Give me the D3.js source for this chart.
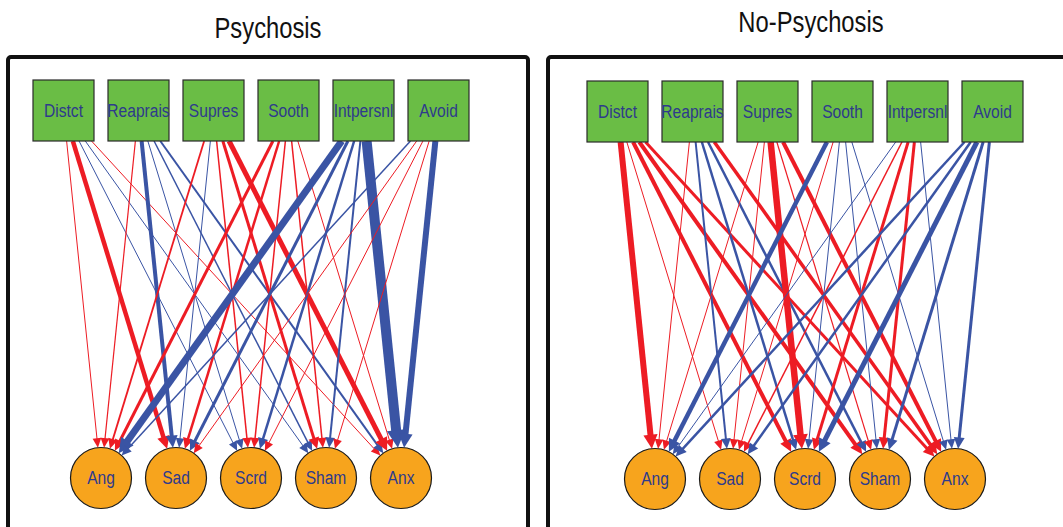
<!DOCTYPE html>
<html>
<head>
<meta charset="utf-8">
<script src="https://cdn.jsdelivr.net/npm/d3@7"></script>
<style>
  body { margin: 0; background: #fff; }
  svg { display: block; }
  text { font-family: "Liberation Sans", Arial, "DejaVu Sans", sans-serif; }
</style>
</head>
<body>
<svg id="chart" width="1063" height="527"></svg>
<script>
const strategies = ['Distct', 'Reaprais', 'Supres', 'Sooth', 'Intpersnl', 'Avoid'];
const emotions = ['Ang', 'Sad', 'Scrd', 'Sham', 'Anx'];

// edge weights, rows = strategies, columns = emotions
// positive = red, negative = blue, size = line width
const psychosis = [
    [ 1.0,  4.5, -1.0, -1.0,  1.0],
    [ 1.2, -4.0, -1.0, -1.5, -2.0],
    [ 1.8, -1.0,  1.5,  3.0,  5.0],
    [ 3.0,  2.5,  1.5,  1.5,  1.0],
    [-7.0, -3.0, -2.5, -2.0, -10.0],
    [-1.5,  1.0,  1.0,  1.0, -6.0]
];
const noPsychosis = [
    [ 6.0,  1.0,  4.0,  4.0,  3.0],
    [ 1.0, -2.0, -2.5, -2.5,  3.5],
    [ 1.0,  1.0,  6.5,  1.2,  4.0],
    [-4.5,  1.0, -1.0, -1.0, -1.0],
    [-1.0,  1.5,  3.0,  3.0, -1.0],
    [-2.5, -2.5, -5.0, -3.0, -3.0]
];
const panelTitles = ['Psychosis', 'No-Psychosis'];

const svg = d3.select('#chart');
const red = '#ed1c24', blue = '#3a54a4';
const labelColor = '#2e3a8c';
const narrow = 'scale(0.82,1)'; // condensed look

function drawPanel(g, weights) {
    const sx = d3.scalePoint().domain(strategies).range([63.5, 438.5]);
    const tx = d3.scalePoint().domain(emotions).range([101, 401]);
    const widthScale = d3.scaleLinear().domain([0, 10]).range([0, 10]);
    const boxY = 110.5, boxHalf = 30.5, circY = 478, r = 30.5;

    const edges = [];
    strategies.forEach((s, i) => emotions.forEach((e, j) => edges.push({ s, e, v: weights[i][j] })));

    edges.forEach(d => {
        const x0 = sx(d.s), y0 = boxY, x1 = tx(d.e), y1 = circY;
        const dx = x1 - x0, dy = y1 - y0, len = Math.hypot(dx, dy);
        const ux = dx / len, uy = dy / len;
        const w = widthScale(Math.abs(d.v));
        const hl = 8.5 + w * 0.9, hw = 3.8 + w * 0.55;
        const tip = [x1 - ux * r, y1 - uy * r];
        const base = [tip[0] - ux * hl, tip[1] - uy * hl];
        d.start = [x0 + dx * boxHalf / dy, y0 + boxHalf];
        d.end = [base[0] + ux, base[1] + uy];
        d.head = [tip, [base[0] - uy * hw, base[1] + ux * hw], [base[0] + uy * hw, base[1] - ux * hw]];
        d.width = w;
        d.color = d.v > 0 ? red : blue;
    });

    g.selectAll('line.edge')
        .data(edges)
        .join('line')
        .attr('class', 'edge')
        .attr('x1', d => d.start[0]).attr('y1', d => d.start[1])
        .attr('x2', d => d.end[0]).attr('y2', d => d.end[1])
        .style('stroke', d => d.color)
        .style('stroke-width', d => d.width);

    g.selectAll('path.head')
        .data(edges)
        .join('path')
        .attr('class', 'head')
        .attr('d', d => 'M' + d.head.join('L') + 'Z')
        .style('fill', d => d.color);

    // strategy boxes
    const boxes = g.selectAll('g.box')
        .data(strategies)
        .join('g')
        .attr('class', 'box')
        .attr('transform', d => `translate(${sx(d)},${boxY})`);
    boxes.append('rect')
        .attr('x', -boxHalf).attr('y', -boxHalf)
        .attr('width', boxHalf * 2).attr('height', boxHalf * 2)
        .style('fill', '#6abd45')
        .style('stroke', '#2a2a2a')
        .style('stroke-width', 1.2);
    boxes.append('text')
        .attr('transform', narrow)
        .attr('text-anchor', 'middle')
        .attr('dy', '0.33em')
        .style('font-size', '19px')
        .style('fill', labelColor)
        .text(d => d);

    // emotion circles
    const nodes = g.selectAll('g.emo')
        .data(emotions)
        .join('g')
        .attr('class', 'emo')
        .attr('transform', d => `translate(${tx(d)},${circY})`);
    nodes.append('circle')
        .attr('r', r)
        .style('fill', '#f7a41d')
        .style('stroke', '#1a1a1a')
        .style('stroke-width', 1.2);
    nodes.append('text')
        .attr('transform', narrow)
        .attr('text-anchor', 'middle')
        .attr('dy', '0.33em')
        .style('font-size', '19px')
        .style('fill', labelColor)
        .text(d => d);
}

// frames (bottom edge runs off the page)
svg.selectAll('rect.frame')
    .data([8, 548])
    .join('rect')
    .attr('class', 'frame')
    .attr('x', d => d).attr('y', 57)
    .attr('width', 520).attr('height', 600)
    .attr('rx', 3)
    .style('fill', 'none')
    .style('stroke', '#111')
    .style('stroke-width', 4);

drawPanel(svg.append('g'), psychosis);
drawPanel(svg.append('g').attr('transform', 'translate(554,1)'), noPsychosis);

svg.selectAll('text.title')
    .data(panelTitles)
    .join('text')
    .attr('class', 'title')
    .attr('transform', (d, i) => `translate(${i === 0 ? 268 : 811},${i === 0 ? 38 : 32}) ${narrow}`)
    .attr('text-anchor', 'middle')
    .style('font-size', '29px')
    .style('fill', '#111')
    .text(d => d);
</script>
</body>
</html>
